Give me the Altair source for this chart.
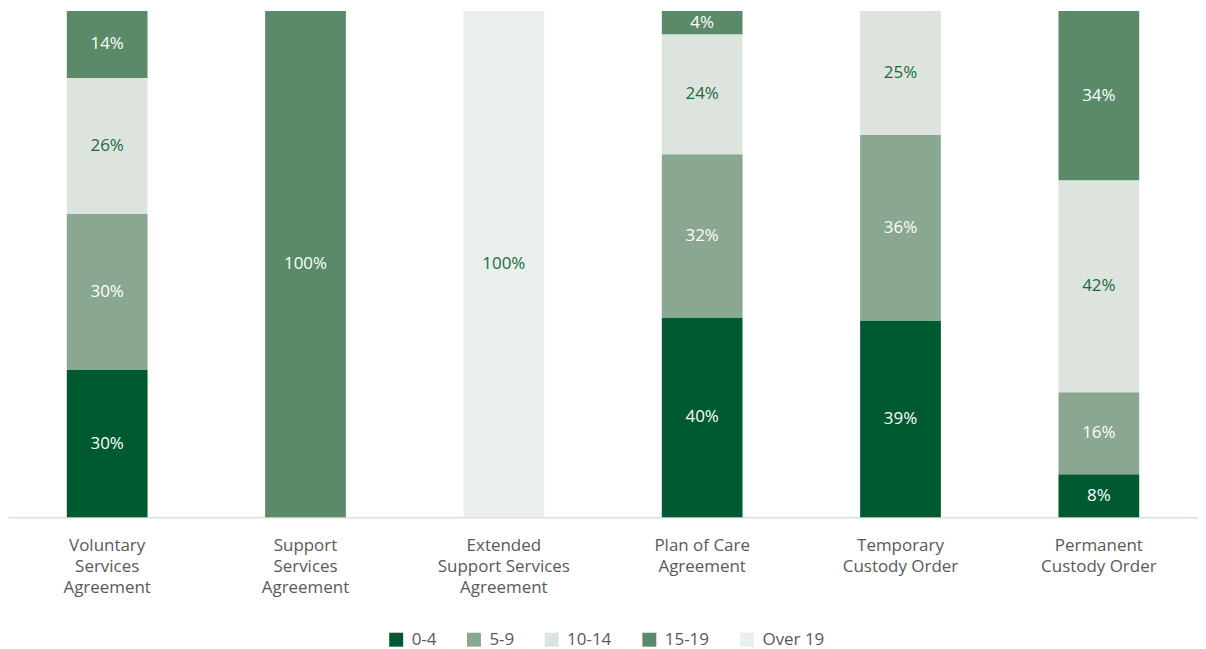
import altair as alt
import pandas as pd

categories = [
    "Voluntary|Services|Agreement",
    "Support|Services|Agreement",
    "Extended|Support Services|Agreement",
    "Plan of Care|Agreement",
    "Temporary|Custody Order",
    "Permanent|Custody Order",
]
ages = ["0-4", "5-9", "10-14", "15-19", "Over 19"]
colors = ["#005a31", "#8aa891", "#dde4dd", "#5a8a68", "#e9efeb"]

# share of each age group (percent), per category
v_0_4 = [29.1, 0, 0, 39.5, 38.9, 8.5]
v_5_9 = [30.8, 0, 0, 32.2, 36.6, 16.2]
v_10_14 = [26.9, 0, 0, 23.7, 24.5, 41.9]
v_15_19 = [13.2, 100, 0, 4.6, 0, 33.4]
v_over19 = [0, 0, 100, 0, 0, 0]

# data labels as printed on the chart
l_0_4 = ["30%", "", "", "40%", "39%", "8%"]
l_5_9 = ["30%", "", "", "32%", "36%", "16%"]
l_10_14 = ["26%", "", "", "24%", "25%", "42%"]
l_15_19 = ["14%", "100%", "", "4%", "", "34%"]
l_over19 = ["", "", "100%", "", "", ""]

values = [v_0_4, v_5_9, v_10_14, v_15_19, v_over19]
labels = [l_0_4, l_5_9, l_10_14, l_15_19, l_over19]

rows = []
for ai, age in enumerate(ages):
    for ci, cat in enumerate(categories):
        rows.append({"cat": cat, "age": age, "ord": ai,
                     "value": values[ai][ci], "label": labels[ai][ci]})
df = pd.DataFrame(rows)

FONT = "Open Sans"
FS = 17

base = alt.Chart(df).transform_stack(
    stack="value", as_=["v0", "v1"], groupby=["cat"],
    sort=[alt.SortField("ord", order="ascending")]
).transform_calculate(mid="(datum.v0 + datum.v1) / 2")

x = alt.X("cat:N", sort=categories, title=None,
          scale=alt.Scale(paddingInner=0.593, paddingOuter=0.2965),
          axis=alt.Axis(labelAngle=0, ticks=False, labelPadding=20,
                        labelExpr="split(datum.value, '|')",
                        labelLineHeight=21, labelFontSize=FS, labelFont=FONT,
                        labelColor="#595959", domainColor="#d9e0dc",
                        domainWidth=1.5, labelBaseline="top"))
yscale = alt.Scale(domain=[0, 100], nice=False)

bars = base.mark_bar().encode(
    x=x,
    y=alt.Y("v0:Q", scale=yscale, axis=None),
    y2="v1:Q",
    color=alt.Color("age:N", sort=ages,
                    scale=alt.Scale(domain=ages, range=colors),
                    legend=alt.Legend(title=None, orient="none", direction="horizontal",
                                      legendX=381, legendY=622,
                                      symbolType="square", symbolSize=196,
                                      symbolStrokeWidth=0,
                                      labelFontSize=FS, labelFont=FONT,
                                      labelColor="#595959", columnPadding=29,
                                      labelOffset=7)),
)

text = base.transform_filter("datum.label != ''").mark_text(
    fontSize=FS, font=FONT, baseline="middle", align="center"
).encode(
    x=alt.X("cat:N", sort=categories),
    y=alt.Y("mid:Q", scale=yscale),
    text="label:N",
    color=alt.condition("datum.age == '10-14' || datum.age == 'Over 19'",
                        alt.value("#1a6b3e"), alt.value("#ffffff")),
)

chart = alt.layer(bars, text).properties(
    width=1194, height=508,
    padding={"left": 0, "top": 1, "right": 0, "bottom": 0},
).configure_view(stroke=None)

chart.save("out.html", embed_options={"renderer": "svg", "actions": False})
